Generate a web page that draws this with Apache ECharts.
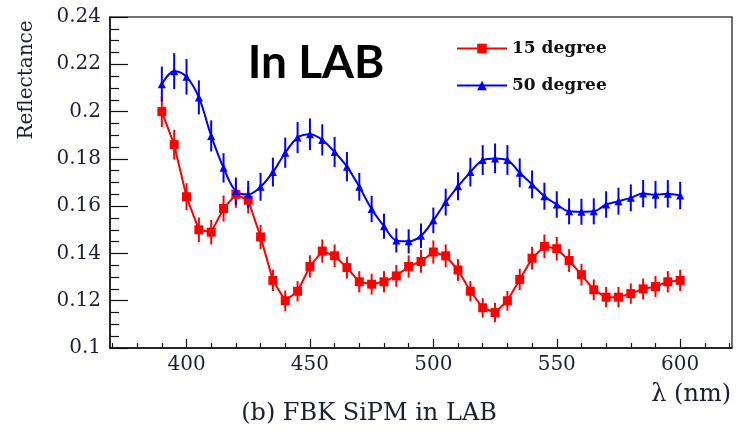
<!DOCTYPE html>
<html>
<head>
<meta charset="utf-8">
<script src="https://cdn.jsdelivr.net/npm/echarts@6/dist/echarts.min.js"></script>
<style>
html,body{margin:0;padding:0;background:#fff;}
#chart{width:741px;height:433px;}
</style>
</head>
<body>
<div id="chart"></div>
<script>
// ---- data ----
const wavelength = [390,395,400,405,410,415,420,425,430,435,440,445,450,455,460,465,470,475,480,485,490,495,500,505,510,515,520,525,530,535,540,545,550,555,560,565,570,575,580,585,590,595,600];
const deg15 = [0.200,0.186,0.164,0.150,0.149,0.159,0.165,0.1625,0.147,0.1286,0.120,0.124,0.1345,0.141,0.139,0.134,0.128,0.127,0.128,0.1305,0.1345,0.1366,0.1406,0.139,0.133,0.124,0.117,0.115,0.120,0.129,0.138,0.143,0.142,0.137,0.131,0.1246,0.1215,0.1215,0.123,0.125,0.126,0.128,0.1286];
const deg15Err = [0.0065,0.0063,0.0057,0.0052,0.0052,0.0055,0.0057,0.0056,0.0051,0.0045,0.0043,0.0043,0.0047,0.0049,0.0048,0.0046,0.0045,0.0044,0.0045,0.0046,0.0047,0.0048,0.0049,0.0048,0.0046,0.0043,0.0041,0.0041,0.0042,0.0045,0.0048,0.0050,0.0050,0.0048,0.0046,0.0044,0.0043,0.0043,0.0043,0.0044,0.0044,0.0045,0.0045];
const deg50 = [0.2116,0.2171,0.2147,0.206,0.1897,0.1762,0.1663,0.1649,0.1682,0.1744,0.1826,0.189,0.1904,0.188,0.1829,0.1767,0.1682,0.1588,0.1515,0.1455,0.1451,0.1475,0.154,0.1617,0.1684,0.1744,0.1795,0.1802,0.1795,0.1741,0.1692,0.1642,0.1607,0.1578,0.1576,0.1578,0.1607,0.1621,0.1635,0.1653,0.1648,0.1652,0.1645];
const deg50Err = [0.0074,0.0076,0.0075,0.0072,0.0066,0.0062,0.0058,0.0058,0.0059,0.0061,0.0064,0.0066,0.0067,0.0066,0.0064,0.0062,0.0059,0.0056,0.0053,0.0051,0.0051,0.0052,0.0054,0.0057,0.0059,0.0061,0.0063,0.0063,0.0063,0.0061,0.0059,0.0057,0.0056,0.0055,0.0055,0.0055,0.0056,0.0057,0.0057,0.0058,0.0058,0.0058,0.0058];
const seriesNames = ['15 degree','50 degree'];
const xMajorTicks = [400,450,500,550,600];
const xMinorTicks = [370,380,390,410,420,430,440,460,470,480,490,510,520,530,540,560,570,580,590,610,620];
const yMajorTicks = [0.1,0.12,0.14,0.16,0.18,0.2,0.22,0.24];
const yMinorTicks = [0.105,0.11,0.115,0.125,0.13,0.135,0.145,0.15,0.155,0.165,0.17,0.175,0.185,0.19,0.195,0.205,0.21,0.215,0.225,0.23,0.235];

// ---- chart ----
const FONT = 'DejaVu Serif';
const TXT = '#1c1f33';
const chart = echarts.init(document.getElementById('chart'), null, {renderer:'canvas'});

function errBars(color){
  return function(params, api){
    const x = api.value(0), y = api.value(1), e = api.value(2);
    const p1 = api.coord([x, y - e]);
    const p2 = api.coord([x, y + e]);
    return {type:'line', shape:{x1:p1[0], y1:p1[1], x2:p2[0], y2:p2[1]}, style:{stroke:color, lineWidth:2}};
  };
}

const X_MIN = 369, X_MAX = 621, Y_MIN = 0.1, Y_MAX = 0.24;

const option = {
  animation:false,
  backgroundColor:'#fff',
  grid:{left:110, right:9, top:17, bottom:85, show:true, borderColor:'#444', borderWidth:1.5, containLabel:false},
  xAxis:[
    {type:'value', min:X_MIN, max:X_MAX, splitLine:{show:false},
     axisLine:{show:true, onZero:false, lineStyle:{color:'#111', width:1.5}},
     axisTick:{show:true, inside:true, length:9, customValues:xMajorTicks, lineStyle:{color:'#111', width:1.2}},
     axisLabel:{customValues:xMajorTicks, fontFamily:FONT, fontSize:20, color:TXT, margin:7}},
    {type:'value', min:X_MIN, max:X_MAX, position:'bottom', splitLine:{show:false},
     axisLine:{show:false},
     axisTick:{show:true, inside:true, length:5, customValues:xMinorTicks, lineStyle:{color:'#111', width:1.2}},
     axisLabel:{show:false}}
  ],
  yAxis:[
    {type:'value', min:Y_MIN, max:Y_MAX, splitLine:{show:false},
     axisLine:{show:true, onZero:false, lineStyle:{color:'#111', width:1.5}},
     axisTick:{show:true, inside:true, length:18, customValues:yMajorTicks, lineStyle:{color:'#111', width:1.2}},
     axisLabel:{customValues:yMajorTicks, fontFamily:FONT, fontSize:20, color:TXT, margin:9}},
    {type:'value', min:Y_MIN, max:Y_MAX, position:'left', splitLine:{show:false},
     axisLine:{show:false},
     axisTick:{show:true, inside:true, length:9, customValues:yMinorTicks, lineStyle:{color:'#111', width:1.2}},
     axisLabel:{show:false}}
  ],
  legend:{
    orient:'vertical', left:456, top:40, data:seriesNames,
    itemWidth:50, itemHeight:12, itemGap:20, padding:0,
    textStyle:{fontFamily:FONT, fontWeight:'bold', fontSize:17, color:'#111'}
  },
  series:[
    {type:'custom', name:'err15', xAxisIndex:0, yAxisIndex:0, silent:true, z:3,
     data: wavelength.map((w,i)=>[w, deg15[i], deg15Err[i]]),
     encode:{x:0, y:1}, renderItem: errBars('#ff0000')},
    {type:'custom', name:'err50', xAxisIndex:0, yAxisIndex:0, silent:true, z:3,
     data: wavelength.map((w,i)=>[w, deg50[i], deg50Err[i]]),
     encode:{x:0, y:1}, renderItem: errBars('#0000ff')},
    {type:'line', name:seriesNames[0], xAxisIndex:0, yAxisIndex:0, z:4,
     data: wavelength.map((w,i)=>[w, deg15[i]]),
     symbol:'rect', symbolSize:9, showAllSymbol:true,
     lineStyle:{color:'#ff0000', width:2}, itemStyle:{color:'#ff0000'}},
    {type:'line', name:seriesNames[1], xAxisIndex:0, yAxisIndex:0, z:4,
     data: wavelength.map((w,i)=>[w, deg50[i]]),
     smooth:0.35, symbol:'triangle', symbolSize:8, showAllSymbol:true,
     lineStyle:{color:'#0000ff', width:2}, itemStyle:{color:'#0000ff'}}
  ],
  graphic:[
    {type:'text', x:316, y:63, style:{text:'In LAB', fontFamily:'Lato', fontWeight:'bold', fontSize:46, fill:'#000', textAlign:'center', textVerticalAlign:'middle'}},
    {type:'text', x:27, y:80, rotation:Math.PI/2, style:{text:'Reflectance', fontFamily:FONT, fontSize:20, fill:TXT, textAlign:'center', textVerticalAlign:'middle'}},
    {type:'text', x:731, y:395, style:{text:'λ (nm)', fontFamily:FONT, fontSize:24, fill:TXT, textAlign:'right', textVerticalAlign:'middle'}},
    {type:'text', x:369, y:414, style:{text:'(b) FBK SiPM in LAB', fontFamily:FONT, fontSize:24, fill:TXT, textAlign:'center', textVerticalAlign:'middle'}}
  ]
};
chart.setOption(option);
</script>
</body>
</html>
